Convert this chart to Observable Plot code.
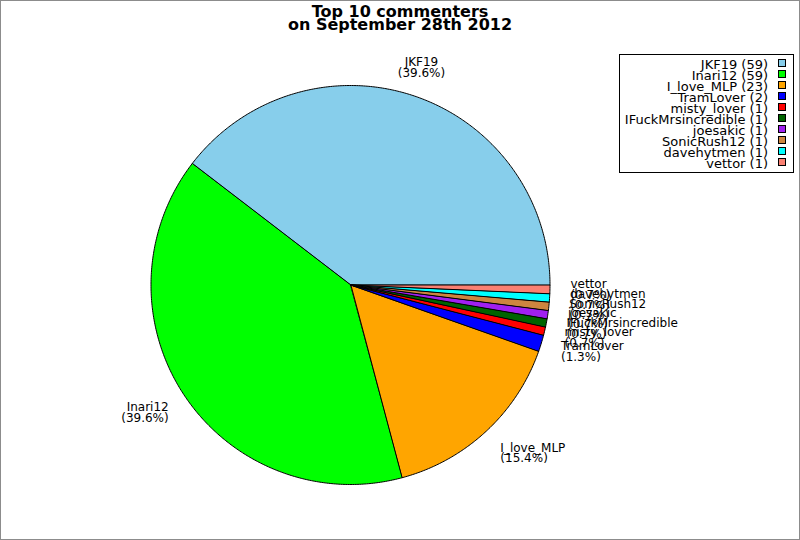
<!DOCTYPE html>
<html>
<head>
<meta charset="utf-8">
<script src="https://cdn.jsdelivr.net/npm/d3@7"></script>
<script src="https://cdn.jsdelivr.net/npm/@observablehq/plot@0.6"></script>
<style>
  body { margin: 0; background: #fff; font-family: "DejaVu Sans", sans-serif; }
  #wrap { position: relative; width: 800px; height: 540px; box-sizing: border-box; border: 1px solid #8c8c8c; overflow: hidden; background: #fff; }
  #chart { position: absolute; left: 0; top: 0; }
  #title { position: absolute; left: 0; top: 4px; width: 798px; text-align: center; font: bold 16px/13px "DejaVu Sans", sans-serif; }
  #legend { position: absolute; left: 618px; top: 53px; width: 175px; height: 119px; box-sizing: border-box; border: 1px solid #000; background: #fff; }
  .lg-text { position: absolute; right: 31px; font: 13px/11px "DejaVu Sans", sans-serif; white-space: nowrap; text-align: right; }
  .lg-box { position: absolute; left: 777px; width: 8px; height: 8px; box-sizing: border-box; border: 1px solid #000; }
</style>
</head>
<body>
<div id="wrap">
  <div id="chart"></div>
  <div id="title">Top 10 commenters<br>on September 28th 2012</div>
  <div id="legend"></div>
</div>
<script>
// commenters and their comment counts
const names = ["JKF19", "Inari12", "I_love_MLP", "TramLover", "misty_lover", "IFuckMrsincredible", "joesakic", "SonicRush12", "davehytmen", "vettor"];
const counts = [59, 59, 23, 2, 1, 1, 1, 1, 1, 1];
const colors = ["#87ceeb", "#00ff00", "#ffa500", "#0000ff", "#ff0000", "#006400", "#a020f0", "#cd853f", "#00ffff", "#fa8072"];

const total = d3.sum(counts);
const fmt = d3.format(".1f");

// pie angles, used as math angles (counter-clockwise from 3 o'clock)
const arcs = d3.pie().sort(null).startAngle(0).endAngle(2 * Math.PI)(counts);

const slices = arcs.map((a, i) => ({
  name: names[i], count: counts[i], color: colors[i],
  a0: a.startAngle, a1: a.endAngle, mid: (a.startAngle + a.endAngle) / 2,
  pct: fmt(counts[i] / total * 100) + "%"
}));

// sector outlines: arc points, filled against the centre
const pts = [];
slices.forEach(s => {
  const n = Math.max(2, Math.ceil((s.a1 - s.a0) / (Math.PI / 360)));
  for (let k = 0; k <= n; k++) {
    const t = s.a0 + (s.a1 - s.a0) * k / n;
    pts.push({name: s.name, color: s.color, x: Math.cos(t), y: Math.sin(t)});
  }
});

const labels = slices.map(s => ({
  text: s.name + "\n(" + s.pct + ")",
  x: 1.1 * Math.cos(s.mid),
  y: 1.15 * Math.sin(s.mid),
  side: Math.abs(Math.cos(s.mid)) < 0.5 ? "middle" : (Math.cos(s.mid) > 0 ? "start" : "end")
}));

const W = 798, H = 538, cx = 349.5, cy = 284, R = 199.5;

const chart = Plot.plot({
  width: W,
  height: H,
  margin: 0,
  x: {domain: [-cx / R, (W - cx) / R], axis: null},
  y: {domain: [-(H - cy) / R, cy / R], axis: null},
  color: {type: "identity"},
  style: {fontFamily: "DejaVu Sans", fontSize: "12px", background: "transparent"},
  marks: [
    Plot.area(pts, {x1: "x", y1: "y", x2: 0, y2: 0, z: "name", fill: "color", stroke: "black", strokeWidth: 1}),
    ...["start", "middle", "end"].map(side =>
      Plot.text(labels.filter(d => d.side === side), {
        x: "x", y: "y", text: "text", textAnchor: side, lineAnchor: "middle", lineHeight: 0.9, fill: "black"
      }))
  ]
});
document.getElementById("chart").append(chart);

// legend
const legend = document.getElementById("wrap");
slices.forEach((s, i) => {
  const t = document.createElement("div");
  t.className = "lg-text";
  t.style.top = (58 + 11 * i) + "px";
  t.textContent = s.name + " (" + s.count + ")";
  legend.append(t);
  const b = document.createElement("div");
  b.className = "lg-box";
  b.style.top = (58 + 11 * i) + "px";
  b.style.background = s.color;
  legend.append(b);
});
</script>
</body>
</html>
